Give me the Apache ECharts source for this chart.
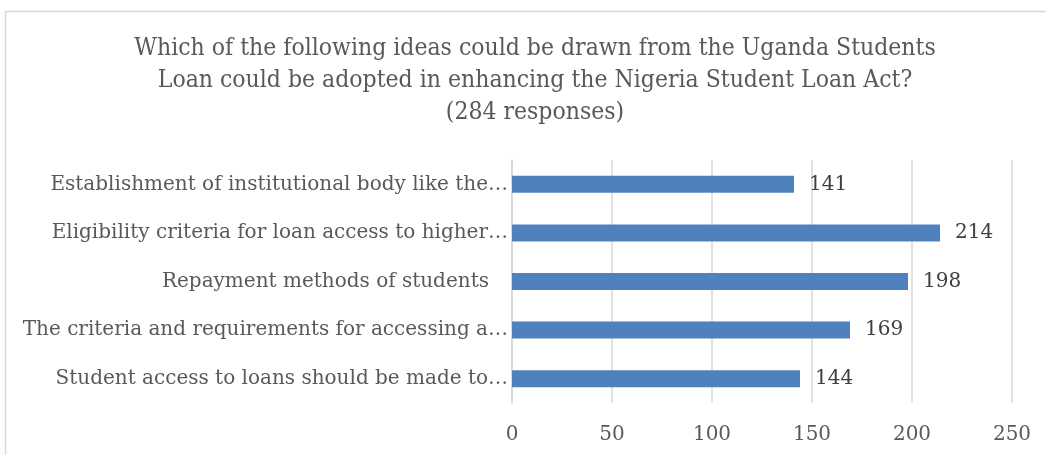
<!DOCTYPE html>
<html>
<head>
<meta charset="utf-8">
<script src="https://cdn.jsdelivr.net/npm/echarts@6/dist/echarts.min.js"></script>
<style>
  html, body { margin: 0; padding: 0; background: #fff; }
  #chart { width: 1046px; height: 455px; }
</style>
</head>
<body>
<div id="chart"></div>
<script>
var categories = [
  'Student access to loans should be made to…',
  'The criteria and requirements for accessing a…',
  'Repayment methods of students   ',
  'Eligibility criteria for loan access to higher…',
  'Establishment of institutional body like the…'
];
var responses = [144, 169, 198, 214, 141];
var tickValues = [0, 50, 100, 150, 200, 250];

var titleText = 'Which of the following ideas could be drawn from the Uganda Students\n' +
  'Loan could be adopted in enhancing the Nigeria Student Loan Act?\n' +
  '(284 responses)';

var chart = echarts.init(document.getElementById('chart'));
var serif = '"DejaVu Serif", serif';
var condensed = '"DejaVu Serif Condensed", "DejaVu Serif", serif';

chart.setOption({
  animation: false,
  title: {
    text: titleText,
    left: 530,
    top: 28,
    textAlign: 'center',
    textStyle: {
      color: '#595959',
      fontFamily: condensed,
      fontSize: 24.5,
      fontWeight: 'normal',
      lineHeight: 32
    }
  },
  graphic: [{
    type: 'rect',
    shape: { x: 5.5, y: 11.5, width: 1100, height: 500 },
    style: { fill: 'none', stroke: '#d9d9d9', lineWidth: 1.5 },
    silent: true
  }],
  grid: {
    left: 512,
    right: 34,
    top: 160,
    bottom: 52
  },
  xAxis: {
    type: 'value',
    min: tickValues[0],
    max: tickValues[tickValues.length - 1],
    interval: 50,
    axisLine: { show: false },
    axisTick: { show: false },
    splitLine: { lineStyle: { color: '#d9d9d9', width: 1.5 } },
    axisLabel: {
      color: '#595959',
      fontFamily: serif,
      fontSize: 20,
      margin: 22
    }
  },
  yAxis: {
    type: 'category',
    data: categories,
    axisLine: { show: true, lineStyle: { color: '#d9d9d9', width: 1.5 } },
    axisTick: { show: false },
    axisLabel: {
      color: '#595959',
      fontFamily: serif,
      fontSize: 20,
      margin: 4
    }
  },
  series: [{
    type: 'bar',
    data: responses,
    barWidth: '35%',
    itemStyle: { color: '#4f81bd' },
    label: {
      show: true,
      position: 'right',
      distance: 15,
      color: '#404040',
      fontFamily: serif,
      fontSize: 20
    }
  }]
});
</script>
</body>
</html>
